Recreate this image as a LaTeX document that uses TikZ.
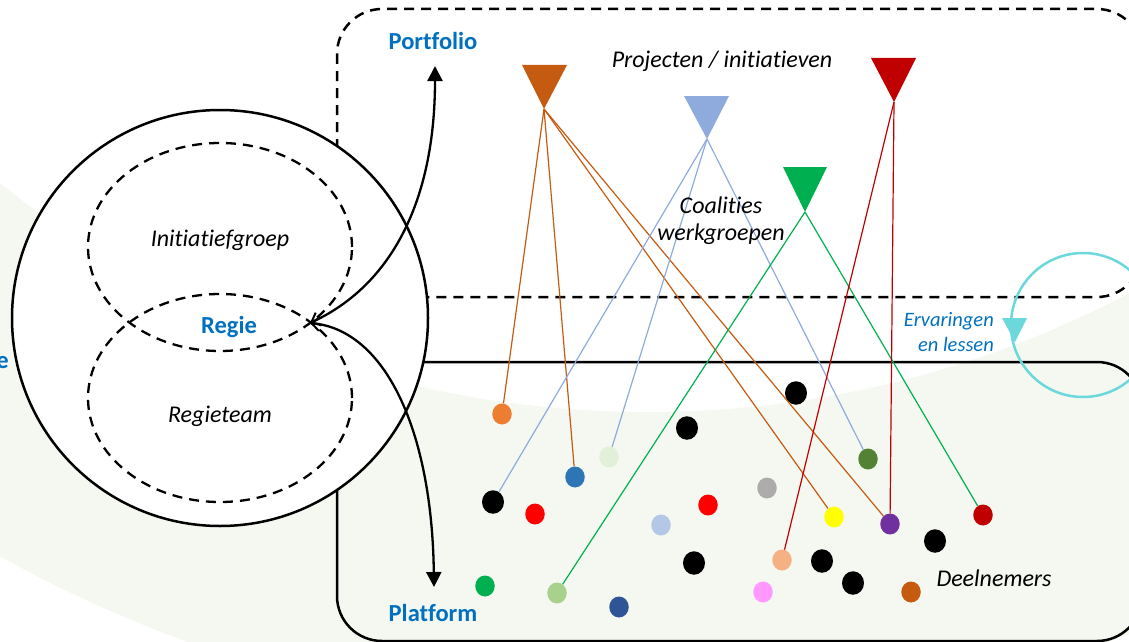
\documentclass[tikz,border=0pt]{standalone}
\usepackage{fontspec}
\setmainfont{Carlito}[Ligatures=NoCommon]
\usetikzlibrary{arrows.meta,shapes.geometric}
\definecolor{textblue}{HTML}{0070C0}
\definecolor{pale}{HTML}{F5F8F0}
\definecolor{cyanloop}{HTML}{6BD8DB}
\definecolor{cbrown}{HTML}{C55A11}
\definecolor{clblue}{HTML}{8FAADC}
\definecolor{cgreen}{HTML}{00B050}
\definecolor{cdred}{HTML}{C00000}
\definecolor{corange}{HTML}{ED7D31}
\definecolor{cpalegreen}{HTML}{E2F0D9}
\definecolor{cblue}{HTML}{2E75B6}
\definecolor{cred}{HTML}{FF0000}
\definecolor{cgray}{HTML}{AEABAB}
\definecolor{clightblue}{HTML}{B4C7E7}
\definecolor{cpeach}{HTML}{F4B183}
\definecolor{clgreen}{HTML}{A9D18E}
\definecolor{cdblue}{HTML}{2F5597}
\definecolor{cpink}{HTML}{FF99FF}
\definecolor{cdgreen}{HTML}{548235}
\definecolor{cyellow}{HTML}{FFFF00}
\definecolor{cpurple}{HTML}{7030A0}
\begin{document}
\begin{tikzpicture}[x=1pt,y=-1pt,
  dot/.style={ellipse, minimum width=19.5pt, minimum height=21pt, inner sep=0pt, fill=#1},
  bdot/.style={ellipse, minimum width=22pt, minimum height=23.5pt, inner sep=0pt, fill=black},
  ilbl/.style={font=\fontsize{24}{28}\selectfont\itshape, inner sep=0pt},
  blbl/.style={font=\fontsize{24.5}{28}\selectfont\bfseries, text=textblue, inner sep=0pt},
  link/.style={line width=1.2pt, draw=#1},
  frame/.style={line width=2.5pt, rounded corners=45pt},
  dashframe/.style={line width=2.5pt, dash pattern=on 10pt off 7pt, rounded corners=45pt},
  inner/.style={line width=2.3pt, dash pattern=on 10pt off 7pt},
  flow/.style={line width=2.3pt, {Triangle[width=15pt,length=15pt]}-{Straight Barb[width=14pt,length=8pt,line width=2pt]}},
  tri/.style={fill=#1}
]
\useasboundingbox (0,0) rectangle (1129,642);
% pale band
\fill[pale, even odd rule] (648,-619) circle[radius=1342pt] (648,-619) circle[radius=1031pt];
% frames
\draw[dashframe] (337,9) rectangle (1142,297);
\draw[frame] (337,362) rectangle (1142,641);
% big circle
\node[circle, draw, fill=white, line width=2.5pt, minimum size=416pt, inner sep=0pt] (big) at (220,318) {};
\draw[inner] (220,247) ellipse [x radius=132pt, y radius=104pt];
\draw[inner] (220,398) ellipse [x radius=132pt, y radius=104pt];
\node[ilbl] (ini) at (220,240) {Initiatiefgroep};
\node[ilbl] (rt) at (220,416) {Regieteam};
\node[blbl] (regie) at (229,327) {Regie};
\node[blbl, anchor=east] (lefte) at (9,363) {e};
% participants
\node[dot=corange] (d1) at (502,414) {};
\node[bdot] (d2) at (687,428) {};
\node[dot=cpalegreen] (d3) at (609,457) {};
\node[dot=cblue] (d4) at (575,477) {};
\node[bdot] (d5) at (493,502) {};
\node[dot=cred] (d6) at (535,514) {};
\node[dot=cgray] (d7) at (767,488) {};
\node[dot=cred] (d8) at (708,505) {};
\node[dot=clightblue] (d9) at (661,525) {};
\node[bdot] (d10) at (694,563) {};
\node[dot=cpeach] (d11) at (782,560) {};
\node[dot=cgreen] (d12) at (485,586) {};
\node[dot=clgreen] (d13) at (557,593) {};
\node[dot=cdblue] (d14) at (619,607) {};
\node[dot=cpink] (d15) at (763,592) {};
\node[bdot] (d16) at (796,393) {};
\node[dot=cdgreen] (d17) at (868,459) {};
\node[dot=cyellow] (d18) at (834,517) {};
\node[dot=cpurple] (d19) at (890,524) {};
\node[dot=cdred] (d20) at (983,515) {};
\node[bdot] (d21) at (935,541) {};
\node[bdot] (d22) at (822,561) {};
\node[bdot] (d23) at (853,583) {};
\node[dot=cbrown] (d24) at (911,592) {};
% triangle tips
\coordinate (tb) at (544,109);
\coordinate (tl) at (707,139);
\coordinate (tg) at (805,212);
\coordinate (tr) at (894,102);
% links
\draw[link=cbrown] (tb) -- (d1);
\draw[link=cbrown] (tb) -- (d4);
\draw[link=cbrown] (tb) -- (d18);
\draw[link=cbrown] (tb) -- (d19);
\draw[link=clblue] (tl) -- (d5);
\draw[link=clblue] (tl) -- (d3);
\draw[link=clblue] (tl) -- (d17);
\draw[link=cgreen] (tg) -- (d13);
\draw[link=cgreen] (tg) -- (d20);
\draw[link=cdred] (tr) -- (d11);
\draw[link=cdred] (tr) -- (d19);
% triangles
\fill[tri=cbrown] (522,65) -- (567,65) -- (tb) -- cycle;
\fill[tri=clblue] (684,96) -- (729,96) -- (tl) -- cycle;
\fill[tri=cgreen] (783,167) -- (827,167) -- (tg) -- cycle;
\fill[tri=cdred] (871,58) -- (916,58) -- (tr) -- cycle;
% labels
\node[blbl] (portfolio) at (433,41) {Portfolio};
\node[blbl] (platform) at (433,613) {Platform};
\node[ilbl] (proj) at (722,61) {Projecten / initiatieven};
\node[ilbl, align=center, font=\fontsize{24}{27}\selectfont\itshape] (coal) at (721,221) {Coalities\\werkgroepen};
\node[ilbl] (deel) at (994,578) {Deelnemers};
\node[ilbl, align=right, text=textblue, font=\fontsize{20.5}{25}\selectfont\itshape, anchor=east] (erv) at (994,332) {Ervaringen\\en lessen};
% flows
\coordinate (rp) at (310,323);
\coordinate (pa) at (435,66);
\coordinate (pb) at (434,587);
\draw[flow] (pa) .. controls (435,200) and (392,285) .. (rp);
\draw[flow] (pb) .. controls (432,430) and (385,330) .. (rp);
% cyan loop
\coordinate (lc) at (1083,325);
\draw[cyanloop, line width=2.5pt] (lc) circle[radius=72pt];
\fill[cyanloop] (1002,318) -- (1027,318) -- (1015,342) -- cycle;
\end{tikzpicture}
\end{document}
